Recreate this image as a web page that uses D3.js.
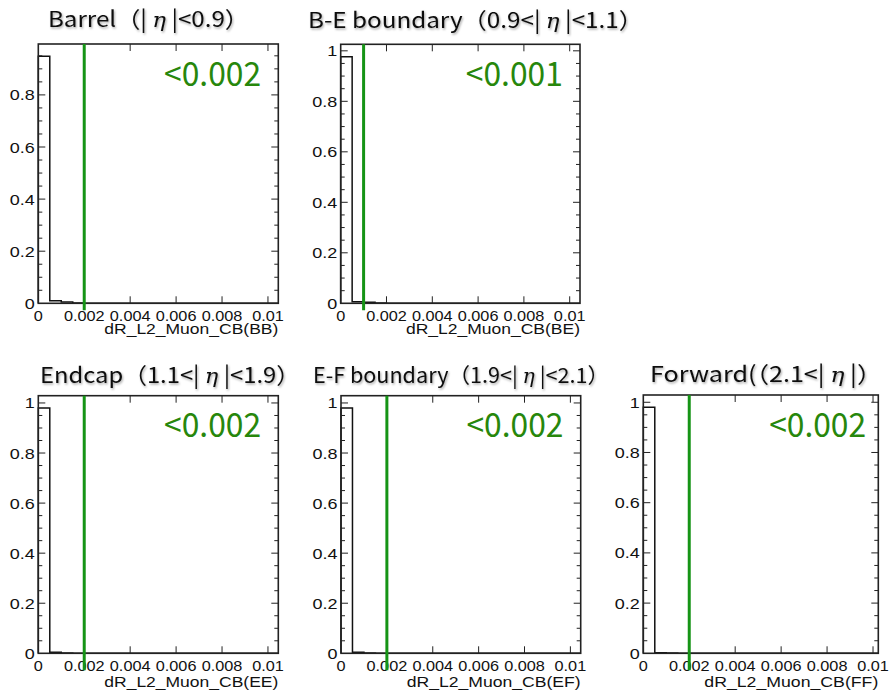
<!DOCTYPE html>
<html>
<head>
<meta charset="utf-8">
<script src="https://cdn.jsdelivr.net/npm/d3@7"></script>
<style>
  html, body { margin: 0; padding: 0; background: #ffffff; }
  svg { display: block; }
</style>
</head>
<body>
<svg id="chart" width="889" height="696"></svg>
<script>
// ---------------- data ----------------
const panelIds = ["BB", "BE", "EE", "EF", "FF"];
const titlePrefix = ["Barrel（| ", "B-E boundary（0.9<| ", "Endcap（1.1<| ", "E-F boundary（1.9<| ", "Forward(（2.1<| "];
const titleSymbol = "η";
const titleSuffix = [" |<0.9）", " |<1.1）", " |<1.9）", " |<2.1）", " |）"];
const axisTitles = ["dR_L2_Muon_CB(BB)", "dR_L2_Muon_CB(BE)", "dR_L2_Muon_CB(EE)", "dR_L2_Muon_CB(EF)", "dR_L2_Muon_CB(FF)"];
const binWidth = 0.0005;
const countsBB = [0.948, 0.010, 0.005, 0.001];
const countsBE = [0.977, 0.006, 0.004, 0.001];
const countsEE = [0.980, 0.004, 0.001];
const countsEF = [0.980, 0.004, 0.001];
const countsFF = [0.980, 0.002, 0.001];
const cutValues = [0.002, 0.001, 0.002, 0.002, 0.002];
const cutLabels = ["<0.002", "<0.001", "<0.002", "<0.002", "<0.002"];
const xAxisMax = [0.01045, 0.01045, 0.01045, 0.01045, 0.01023];
const xTickValues = [0, 0.002, 0.004, 0.006, 0.008, 0.01];
const xTickLabels = ["0", "0.002", "0.004", "0.006", "0.008", "0.01"];
const yTickValues = [0, 0.2, 0.4, 0.6, 0.8, 1];
const yTickLabels = ["0", "0.2", "0.4", "0.6", "0.8", "1"];
const yMinorStep = 0.05;
const labelEndValue = 0.0097; // where the cut annotation ends (x data coordinate)

const allCounts = [countsBB, countsBE, countsEE, countsEF, countsFF];

// ---------------- layout ----------------
const frames = [
  { x0: 38.3,  x1: 278.3, y0: 44.0,  y1: 303.3, tx: 48,  ty: 27,  tl: 201, tf: 22, lineExt: 7,  atDy: 31 },
  { x0: 340.7, x1: 580.0, y0: 44.3,  y1: 303.3, tx: 308, ty: 28,  tl: 335, tf: 22, lineExt: 7,  atDy: 31 },
  { x0: 38.3,  x1: 278.3, y0: 395.7, y1: 653.3, tx: 40,  ty: 383, tl: 260, tf: 22, lineExt: 17, atDy: 34 },
  { x0: 341.0, x1: 580.7, y0: 395.7, y1: 653.3, tx: 313, ty: 383, tl: 296, tf: 21, lineExt: 17, atDy: 34 },
  { x0: 643.3, x1: 878.3, y0: 395.0, y1: 653.3, tx: 650, ty: 382, tl: 232, tf: 22, lineExt: 17, atDy: 34 }
];

const svg = d3.select("#chart");
const defs = svg.append("defs");
const shadow = defs.append("filter").attr("id", "tshadow")
  .attr("x", "-5%").attr("y", "-20%").attr("width", "110%").attr("height", "150%");
shadow.append("feDropShadow").attr("dx", 1).attr("dy", 1.5).attr("stdDeviation", 1.2)
  .attr("flood-color", "#000").attr("flood-opacity", 0.35);

const labelFont = "'Liberation Sans', Arial, Helvetica, sans-serif";
const cjkFont = "'Noto Sans CJK JP', 'Noto Sans', sans-serif";
const greenLine = "#169416";
const greenText = "#27870c";

panelIds.forEach((id, i) => {
  const f = frames[i];
  const counts = allCounts[i];
  const yMax = d3.max(counts) * 1.05;
  const x = d3.scaleLinear().domain([0, xAxisMax[i]]).range([f.x0, f.x1]);
  const y = d3.scaleLinear().domain([0, yMax]).range([f.y1, f.y0]);
  const g = svg.append("g").attr("class", "panel-" + id);

  // title
  const t = g.append("text")
    .attr("x", f.tx).attr("y", f.ty)
    .attr("font-family", cjkFont).attr("font-size", f.tf)
    .attr("fill", "#111")
    .attr("textLength", f.tl).attr("lengthAdjust", "spacingAndGlyphs")
    .attr("filter", "url(#tshadow)");
  t.append("tspan").text(titlePrefix[i]);
  t.append("tspan").attr("font-family", "'DejaVu Serif', serif").attr("font-style", "italic")
    .attr("font-size", f.tf * 0.95).text(titleSymbol);
  t.append("tspan").text(titleSuffix[i]);

  // histogram outline (step)
  const pts = [[0, 0]];
  counts.forEach((c, k) => {
    pts.push([k * binWidth, c]);
    pts.push([(k + 1) * binWidth, c]);
  });
  pts.push([counts.length * binWidth, 0]);
  pts.push([xAxisMax[i], 0]);
  g.append("path")
    .attr("d", d3.line().x(d => x(d[0])).y(d => y(d[1]))(pts))
    .attr("fill", "none").attr("stroke", "#111").attr("stroke-width", 1.5);

  // ticks
  const tg = g.append("g").attr("stroke", "#222").attr("stroke-width", 1);
  xTickValues.forEach(v => {
    if (v <= 0) return;
    tg.append("line").attr("x1", x(v)).attr("x2", x(v)).attr("y1", f.y1).attr("y2", f.y1 - 7);
    tg.append("line").attr("x1", x(v)).attr("x2", x(v)).attr("y1", f.y0).attr("y2", f.y0 + 7);
  });
  const minors = d3.range(0, yMax + 1e-9, yMinorStep);
  minors.forEach(v => {
    const isMajor = Math.abs(v / 0.2 - Math.round(v / 0.2)) < 1e-6;
    const len = isMajor ? 7 : 4;
    if (v <= 0) return;
    tg.append("line").attr("x1", f.x0).attr("x2", f.x0 + len).attr("y1", y(v)).attr("y2", y(v));
    tg.append("line").attr("x1", f.x1).attr("x2", f.x1 - len).attr("y1", y(v)).attr("y2", y(v));
  });

  // frame
  g.append("rect")
    .attr("x", f.x0).attr("y", f.y0)
    .attr("width", f.x1 - f.x0).attr("height", f.y1 - f.y0)
    .attr("fill", "none").attr("stroke", "#222").attr("stroke-width", 1.6);

  // x tick labels
  xTickValues.forEach((v, k) => {
    g.append("text")
      .attr("transform", `translate(${x(v)},${f.y1 + 17.5}) scale(1.18,1)`)
      .attr("text-anchor", "middle")
      .attr("font-family", labelFont).attr("font-size", 13.8).attr("fill", "#111")
      .text(xTickLabels[k]);
  });
  // y tick labels
  yTickValues.forEach((v, k) => {
    if (v > yMax) return;
    g.append("text")
      .attr("transform", `translate(${f.x0 - 3.5},${y(v) + 5.5}) scale(1.2,1)`)
      .attr("text-anchor", "end")
      .attr("font-family", labelFont).attr("font-size", 15).attr("fill", "#111")
      .text(yTickLabels[k]);
  });
  // axis title
  g.append("text")
    .attr("x", f.x1).attr("y", f.y1 + f.atDy)
    .attr("text-anchor", "end")
    .attr("font-family", labelFont).attr("font-size", 14.5).attr("fill", "#111")
    .attr("textLength", 174).attr("lengthAdjust", "spacingAndGlyphs")
    .text(axisTitles[i]);

  // cut line
  g.append("line")
    .attr("x1", x(cutValues[i])).attr("x2", x(cutValues[i]))
    .attr("y1", f.y0).attr("y2", f.y1 + f.lineExt)
    .attr("stroke", greenLine).attr("stroke-width", 3);

  // cut annotation
  g.append("text")
    .attr("x", x(labelEndValue)).attr("y", f.y0 + 41.5)
    .attr("text-anchor", "end")
    .attr("font-family", cjkFont).attr("font-size", 33).attr("font-weight", 400)
    .attr("fill", greenText)
    .attr("textLength", 97).attr("lengthAdjust", "spacingAndGlyphs")
    .text(cutLabels[i]);
});
</script>
</body>
</html>
